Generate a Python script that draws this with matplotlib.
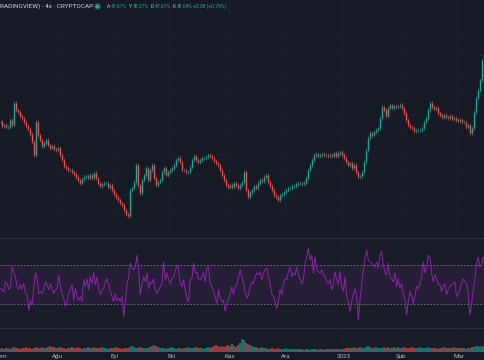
import numpy as np
import matplotlib
matplotlib.use("Agg")
import matplotlib.pyplot as plt

plt.rcParams['font.family'] = ['Roboto', 'DejaVu Sans']

# daily closes (%), left to right
closes = [
    44.65, 44.45, 44.5, 44.4, 44.4, 44.75, 44.5, 45.6, 45.25, 45.15,
    44.95, 44.85, 44.65, 44.45, 44.3, 44.05, 43.65, 43.0, 44.65, 44.0,
    43.75, 43.45, 43.6, 43.75, 43.5, 43.35, 43.45, 43.3, 43.25, 43.35,
    43.0, 42.75, 42.45, 42.35, 42.25, 42.25, 42.15, 42.05, 41.9, 41.75,
    41.6, 41.8, 41.9, 41.95, 41.85, 42.0, 41.85, 42.1, 41.85, 41.6,
    41.45, 41.55, 41.6, 41.6, 41.4, 41.5, 41.25, 41.05, 40.9, 40.75,
    40.6, 40.5, 40.25, 40.05, 39.95, 41.25, 41.35, 41.65, 42.5, 41.5,
    41.1, 41.75, 42.0, 42.35, 41.75, 42.25, 42.5, 41.85, 41.5, 41.65,
    41.75, 42.15, 42.35, 42.0, 42.15, 42.25, 42.35, 42.5, 42.75, 42.85,
    42.65, 42.25, 42.25, 42.15, 42.15, 42.4, 42.75, 42.95, 42.75, 42.65,
    42.75, 42.85, 42.85, 42.9, 43.0, 42.95, 42.85, 42.7, 42.6, 42.5,
    42.25, 42.0, 41.75, 41.5, 41.4, 41.5, 41.4, 41.6, 41.5, 41.35,
    41.5, 41.65, 42.15, 41.25, 40.9, 41.15, 41.25, 41.45, 41.35, 41.6,
    41.75, 41.7, 41.9, 42.0, 41.65, 41.45, 41.25, 41.0, 40.9, 40.75,
    41.0, 41.05, 41.15, 41.25, 41.35, 41.35, 41.45, 41.45, 41.55, 41.6,
    41.6, 41.55, 41.6, 41.85, 42.25, 42.5, 42.75, 43.0, 43.05, 42.95,
    43.0, 43.05, 43.0, 43.0, 42.95, 43.0, 42.95, 43.1, 42.95, 43.1,
    43.15, 43.0, 42.85, 42.65, 42.5, 42.6, 42.35, 42.5, 42.15, 41.9,
    41.95, 42.15, 42.65, 43.25, 43.85, 44.1, 44.0, 44.15, 44.25, 44.35,
    44.85, 45.4, 45.25, 44.95, 45.35, 45.5, 45.35, 45.45, 45.4, 45.45,
    45.5, 45.35, 45.1, 44.75, 44.5, 44.4, 44.35, 44.2, 44.25, 44.25,
    44.25, 44.35, 44.65, 44.85, 45.25, 45.6, 45.4, 45.3, 45.35, 45.1,
    45.0, 44.9, 45.0, 44.9, 44.85, 44.95, 44.8, 44.85, 44.75, 44.7,
    44.75, 44.65, 44.65, 44.4, 44.5, 44.1, 44.35, 45.15, 45.85, 46.25,
    46.75, 47.75, 48.0,
]

volumes = [
    3, 4, 3, 4, 4, 3, 4, 5, 4, 4, 3, 4, 4, 5, 4, 4, 3, 4, 5, 4, 4, 5, 4, 4, 5,
    6, 5, 5, 4, 4, 5, 4, 4, 3, 4, 4, 5, 4, 4, 5, 4, 3, 4, 4, 5, 4, 4, 5, 4, 4,
    4, 5, 4, 4, 3, 4, 4, 4, 5, 4, 4, 3, 4, 4, 4, 5, 6, 5, 4, 4, 5, 4, 4, 4, 4,
    5, 6, 7, 6, 5, 4, 4, 4, 3, 4, 4, 5, 4, 3, 4, 4, 3, 4, 4, 5, 4, 4, 4, 5, 4,
    4, 4, 3, 4, 5, 4, 5, 6, 7, 6, 5, 6, 5, 6, 7, 6, 8, 6, 5, 7, 9, 13, 12, 9, 8,
    7, 6, 5, 5, 4, 4, 5, 4, 4, 3, 3, 4, 3, 3, 4, 3, 3, 3, 4, 3, 3, 3, 3, 3, 3,
    3, 3, 2, 3, 3, 2, 3, 3, 3, 2, 3, 3, 2, 3, 3, 3, 3, 3, 3, 3, 3, 3, 3, 4, 4,
    4, 4, 5, 4, 4, 5, 4, 4, 5, 6, 5, 4, 4, 5, 4, 4, 4, 5, 4, 5, 4, 4, 5, 4, 5,
    4, 4, 5, 4, 4, 4, 5, 4, 4, 4, 5, 4, 4, 4, 5, 4, 4, 4, 4, 3, 4, 4, 5, 4, 4,
    4, 4, 5, 4, 4, 4, 4, 4, 3, 4, 4, 5, 5, 6, 6, 5, 6, 5,
]

rsi = [
    46, 45, 43, 53, 51, 45, 48, 68, 63, 58,
    48, 45, 50, 45, 51, 41, 40, 24, 34, 29,
    48, 62, 55, 41, 43, 41, 45, 53, 50, 45,
    51, 46, 41, 45, 46, 60, 48, 41, 36, 28,
    33, 41, 45, 50, 34, 46, 38, 34, 38, 33,
    55, 48, 56, 45, 58, 51, 62, 50, 58, 45,
    40, 45, 46, 53, 56, 50, 43, 38, 33, 41,
    34, 36, 33, 38, 18, 33, 50, 58, 72, 67,
    65, 68, 80, 65, 40, 51, 58, 53, 62, 46,
    53, 51, 56, 45, 41, 45, 48, 51, 73, 55,
    62, 55, 51, 56, 58, 63, 70, 67, 51, 48,
    55, 45, 36, 33, 55, 56, 72, 62, 63, 56,
    55, 58, 62, 53, 67, 68, 51, 48, 43, 38,
    31, 45, 36, 33, 34, 23, 31, 36, 40, 48,
    40, 48, 50, 58, 65, 58, 51, 43, 36, 40,
    48, 53, 51, 58, 62, 60, 63, 55, 62, 65,
    67, 58, 51, 40, 38, 33, 26, 33, 45, 40,
    51, 56, 55, 63, 68, 58, 62, 60, 68, 60,
    56, 51, 55, 72, 78, 87, 75, 80, 62, 78,
    65, 63, 62, 65, 60, 58, 53, 51, 55, 45,
    50, 63, 55, 50, 63, 48, 43, 58, 38, 33,
    23, 33, 40, 46, 38, 14, 34, 51, 65, 77,
    85, 75, 73, 72, 70, 68, 73, 67, 80, 84,
    70, 62, 60, 72, 58, 56, 53, 62, 48, 56,
    46, 51, 41, 36, 19, 33, 43, 38, 31, 38,
    48, 46, 51, 58, 73, 62, 67, 80, 78, 62,
    53, 60, 56, 51, 50, 43, 48, 51, 40, 45,
    48, 50, 51, 53, 38, 40, 45, 51, 56, 53,
    51, 41, 19, 29, 45, 55, 72, 78, 68, 70,
    78, 78,
]

month_labels = ['Tem', 'Ağu', 'Eyl', 'Eki', 'Kas', 'Ara', '2023', 'Şub', 'Mar']
month_pos = [0.3, 28.5, 57, 85.5, 114.5, 142.5, 171.5, 200.5, 229.5]

bg = '#161a25'
bg2 = '#181c27'
grid_c = '#1b1f2b'
up_c = '#26a69a'
dn_c = '#ef5350'

W, H = 485, 360
fig = plt.figure(figsize=(W / 100, H / 100), dpi=100, facecolor=bg)

def pane(top, bottom, color):
    return fig.add_axes([0, 1 - bottom / H, 1, (bottom - top) / H], facecolor=color)

ax = pane(0, 237, bg)
ax_r = pane(238, 328, bg2)
ax_v = pane(328, 352, bg2)

n = len(closes)
x = np.arange(n)
opens = np.array([closes[0]] + closes[:-1])
c = np.array(closes)
up = c >= opens
cols = np.where(up, up_c, dn_c)

for a in (ax, ax_r, ax_v):
    a.set_xlim(-0.25, n - 0.75)
    a.set_xticks([])
    a.set_yticks([])
    for s in a.spines.values():
        s.set_visible(False)
    for p in month_pos[1:]:
        a.axvline(p, color=grid_c, lw=0.8, zorder=0)

# main pane
for g in range(40, 50):
    ax.axhline(g, color=grid_c, lw=0.8, zorder=0)
lo = np.minimum(opens, c)
hi = np.maximum(opens, c)
ax.vlines(x, lo - 0.08, hi + 0.08, colors=cols, lw=0.5, alpha=0.8)
ax.vlines(x, lo, hi, colors=cols, lw=1.0)
ax.set_ylim(38.9, 50.75)

# rsi pane
xr = np.arange(len(rsi)) * n / len(rsi)
ax_r.axhspan(30, 70, color='#9c27b0', alpha=0.11, lw=0)
for g in (20, 50, 80):
    ax_r.axhline(g, color=grid_c, lw=0.6, zorder=0)
ax_r.axhline(70, color='#787b86', lw=0.6, dashes=(2, 2))
ax_r.axhline(30, color='#787b86', lw=0.6, dashes=(2, 2))
ax_r.plot(xr, rsi, color='#8e24aa', lw=0.7)
ax_r.set_ylim(5.9, 97.5)

# volume pane
ax_v.bar(x, volumes, width=1.0, color=cols, alpha=0.6, lw=0)
ax_v.set_ylim(0, 24)

# separators
ov = fig.add_axes([0, 0, 1, 1], facecolor='none')
ov.set_xlim(0, W)
ov.set_ylim(H, 0)
ov.axis('off')
ov.axhline(237.5, color='#2a2e39', lw=1)
ov.axhline(328, color='#2a2e39', lw=1)

# header
ov.text(0, 6, 'RADINGVIEW) · 4s · CRYPTOCAP', color='#d1d4dc', fontsize=4.6, va='center')
ov.plot(97, 6, 'o', ms=4, color=up_c, mec='#1e4a45', mew=1)
pieces = [('A', 107, '#b2b5be'), ('47.67%', 110.5, up_c), ('Y', 129, '#b2b5be'),
          ('48.07%', 132.5, up_c), ('D', 151, '#b2b5be'), ('47.67%', 154.5, up_c),
          ('K', 173, '#b2b5be'), ('48.04%', 176.5, up_c), ('+0.38 (+0.79%)', 193, up_c)]
for t, px, col in pieces:
    ov.text(px, 6.3, t, color=col, fontsize=3.6, va='center')

# month labels
for lab, p in zip(month_labels, month_pos):
    px = (p + 0.25) * W / (n - 0.5)
    ov.text(px, 356.5, lab, color='#b2b5be', fontsize=4.5, ha='center', va='center')

fig.savefig('out.png', dpi=100, facecolor=bg)
